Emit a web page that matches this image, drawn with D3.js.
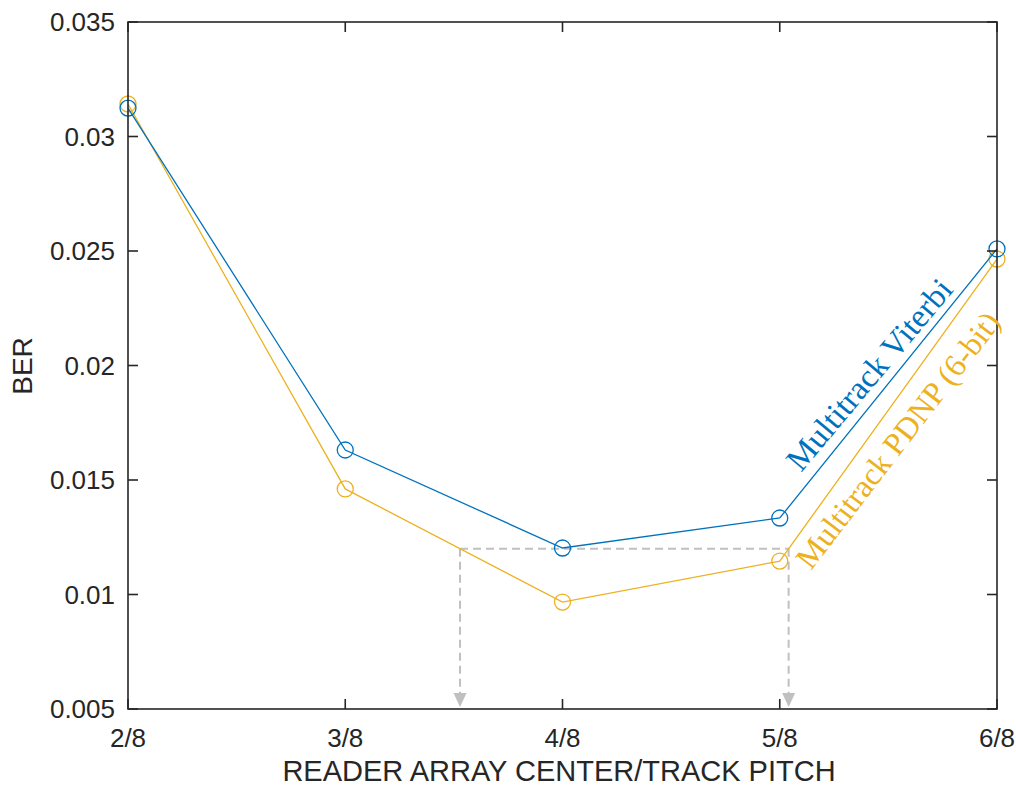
<!DOCTYPE html>
<html><head><meta charset="utf-8">
<script src="https://cdn.jsdelivr.net/npm/d3@7"></script>
<style>body{margin:0;background:#fff}</style>
</head><body>
<svg id="c" width="1016" height="788"></svg>
<script>
const categories = ["2/8","3/8","4/8","5/8","6/8"];
const xValues = [2,3,4,5,6];
const viterbi = [0.03124,0.01631,0.01203,0.01334,0.02509];
const pdnp = [0.03142,0.01461,0.00967,0.01146,0.02465];
const yTicks = [0.005,0.01,0.015,0.02,0.025,0.03,0.035];
const yTickLabels = ["0.005","0.01","0.015","0.02","0.025","0.03","0.035"];
const seriesNames = ["Multitrack Viterbi","Multitrack PDNP (6-bit)"];
const refLevel = 0.012;

const svg = d3.select("#c");
const L=128,R=997,T=22,B=709;
const x = d3.scaleLinear().domain([2,6]).range([L,R]);
const y = d3.scaleLinear().domain([0.005,0.035]).range([B,T]);
const blue="#0072BD", orange="#EDB120", axc="#262626";
const font="'Liberation Sans', Arial, Helvetica, sans-serif";

// dashed reference
function cross(vals, i){
  const x0=xValues[i],x1=xValues[i+1],y0=vals[i],y1=vals[i+1];
  return x0+(refLevel-y0)/(y1-y0)*(x1-x0);
}
const xa = cross(pdnp,1), xb = cross(pdnp,3);
const dg = svg.append("g").attr("stroke","#c0c0c0").attr("stroke-width",2).attr("stroke-dasharray","8,5").attr("fill","none");
dg.append("line").attr("x1",x(xa)).attr("x2",x(xb)).attr("y1",y(refLevel)).attr("y2",y(refLevel));
[xa,xb].forEach(v=>{
  dg.append("line").attr("x1",x(v)).attr("x2",x(v)).attr("y1",y(refLevel)).attr("y2",B-14);
  svg.append("path").attr("fill","#c0c0c0")
    .attr("d",`M${x(v)-6.5},${B-16} L${x(v)+6.5},${B-16} L${x(v)},${B-2} Z`);
});

// series
const line = d3.line().x((d,i)=>x(xValues[i])).y(d=>y(d));
[[pdnp,orange],[viterbi,blue]].forEach(([vals,col])=>{
  svg.append("path").datum(vals).attr("d",line).attr("fill","none").attr("stroke",col).attr("stroke-width",1.3);
  svg.selectAll(null).data(vals).enter().append("circle")
    .attr("cx",(d,i)=>x(xValues[i])).attr("cy",d=>y(d)).attr("r",8)
    .attr("fill","none").attr("stroke",col).attr("stroke-width",1.3);
});

// axes box
const ag = svg.append("g");
ag.append("rect").attr("x",L).attr("y",T).attr("width",R-L).attr("height",B-T)
  .attr("fill","none").attr("stroke",axc).attr("stroke-width",1.6);
const tl=10;
yTicks.forEach((t,i)=>{
  ag.append("line").attr("x1",L).attr("x2",L+tl).attr("y1",y(t)).attr("y2",y(t)).attr("stroke",axc).attr("stroke-width",1.6);
  ag.append("line").attr("x1",R).attr("x2",R-tl).attr("y1",y(t)).attr("y2",y(t)).attr("stroke",axc).attr("stroke-width",1.6);
  ag.append("text").attr("x",L-13).attr("y",y(t)).attr("dy","0.35em").attr("text-anchor","end")
    .attr("font-family",font).attr("font-size",26).attr("fill",axc).text(yTickLabels[i]);
});
xValues.forEach((v,i)=>{
  ag.append("line").attr("x1",x(v)).attr("x2",x(v)).attr("y1",B).attr("y2",B-tl).attr("stroke",axc).attr("stroke-width",1.6);
  ag.append("line").attr("x1",x(v)).attr("x2",x(v)).attr("y1",T).attr("y2",T+tl).attr("stroke",axc).attr("stroke-width",1.6);
  ag.append("text").attr("x",x(v)).attr("y",747).attr("text-anchor","middle")
    .attr("font-family",font).attr("font-size",26).attr("fill",axc).text(categories[i]);
});
svg.append("text").attr("transform",`translate(32,366) rotate(-90)`).attr("text-anchor","middle")
  .attr("font-family",font).attr("font-size",28).attr("fill",axc).text("BER");
svg.append("text").attr("x",559).attr("y",781).attr("text-anchor","middle")
  .attr("font-family",font).attr("font-size",29).attr("fill",axc).text("READER ARRAY CENTER/TRACK PITCH");

// series labels
const serif="'Liberation Serif','Times New Roman',serif";
svg.append("text").attr("transform","translate(801,473) rotate(-50)")
  .attr("font-family",serif).attr("font-size",33).attr("fill",blue).text(seriesNames[0]);
svg.append("text").attr("transform","translate(811,571) rotate(-52.5)")
  .attr("font-family",serif).attr("font-size",32).attr("fill",orange).text(seriesNames[1]);
</script>
</body></html>
